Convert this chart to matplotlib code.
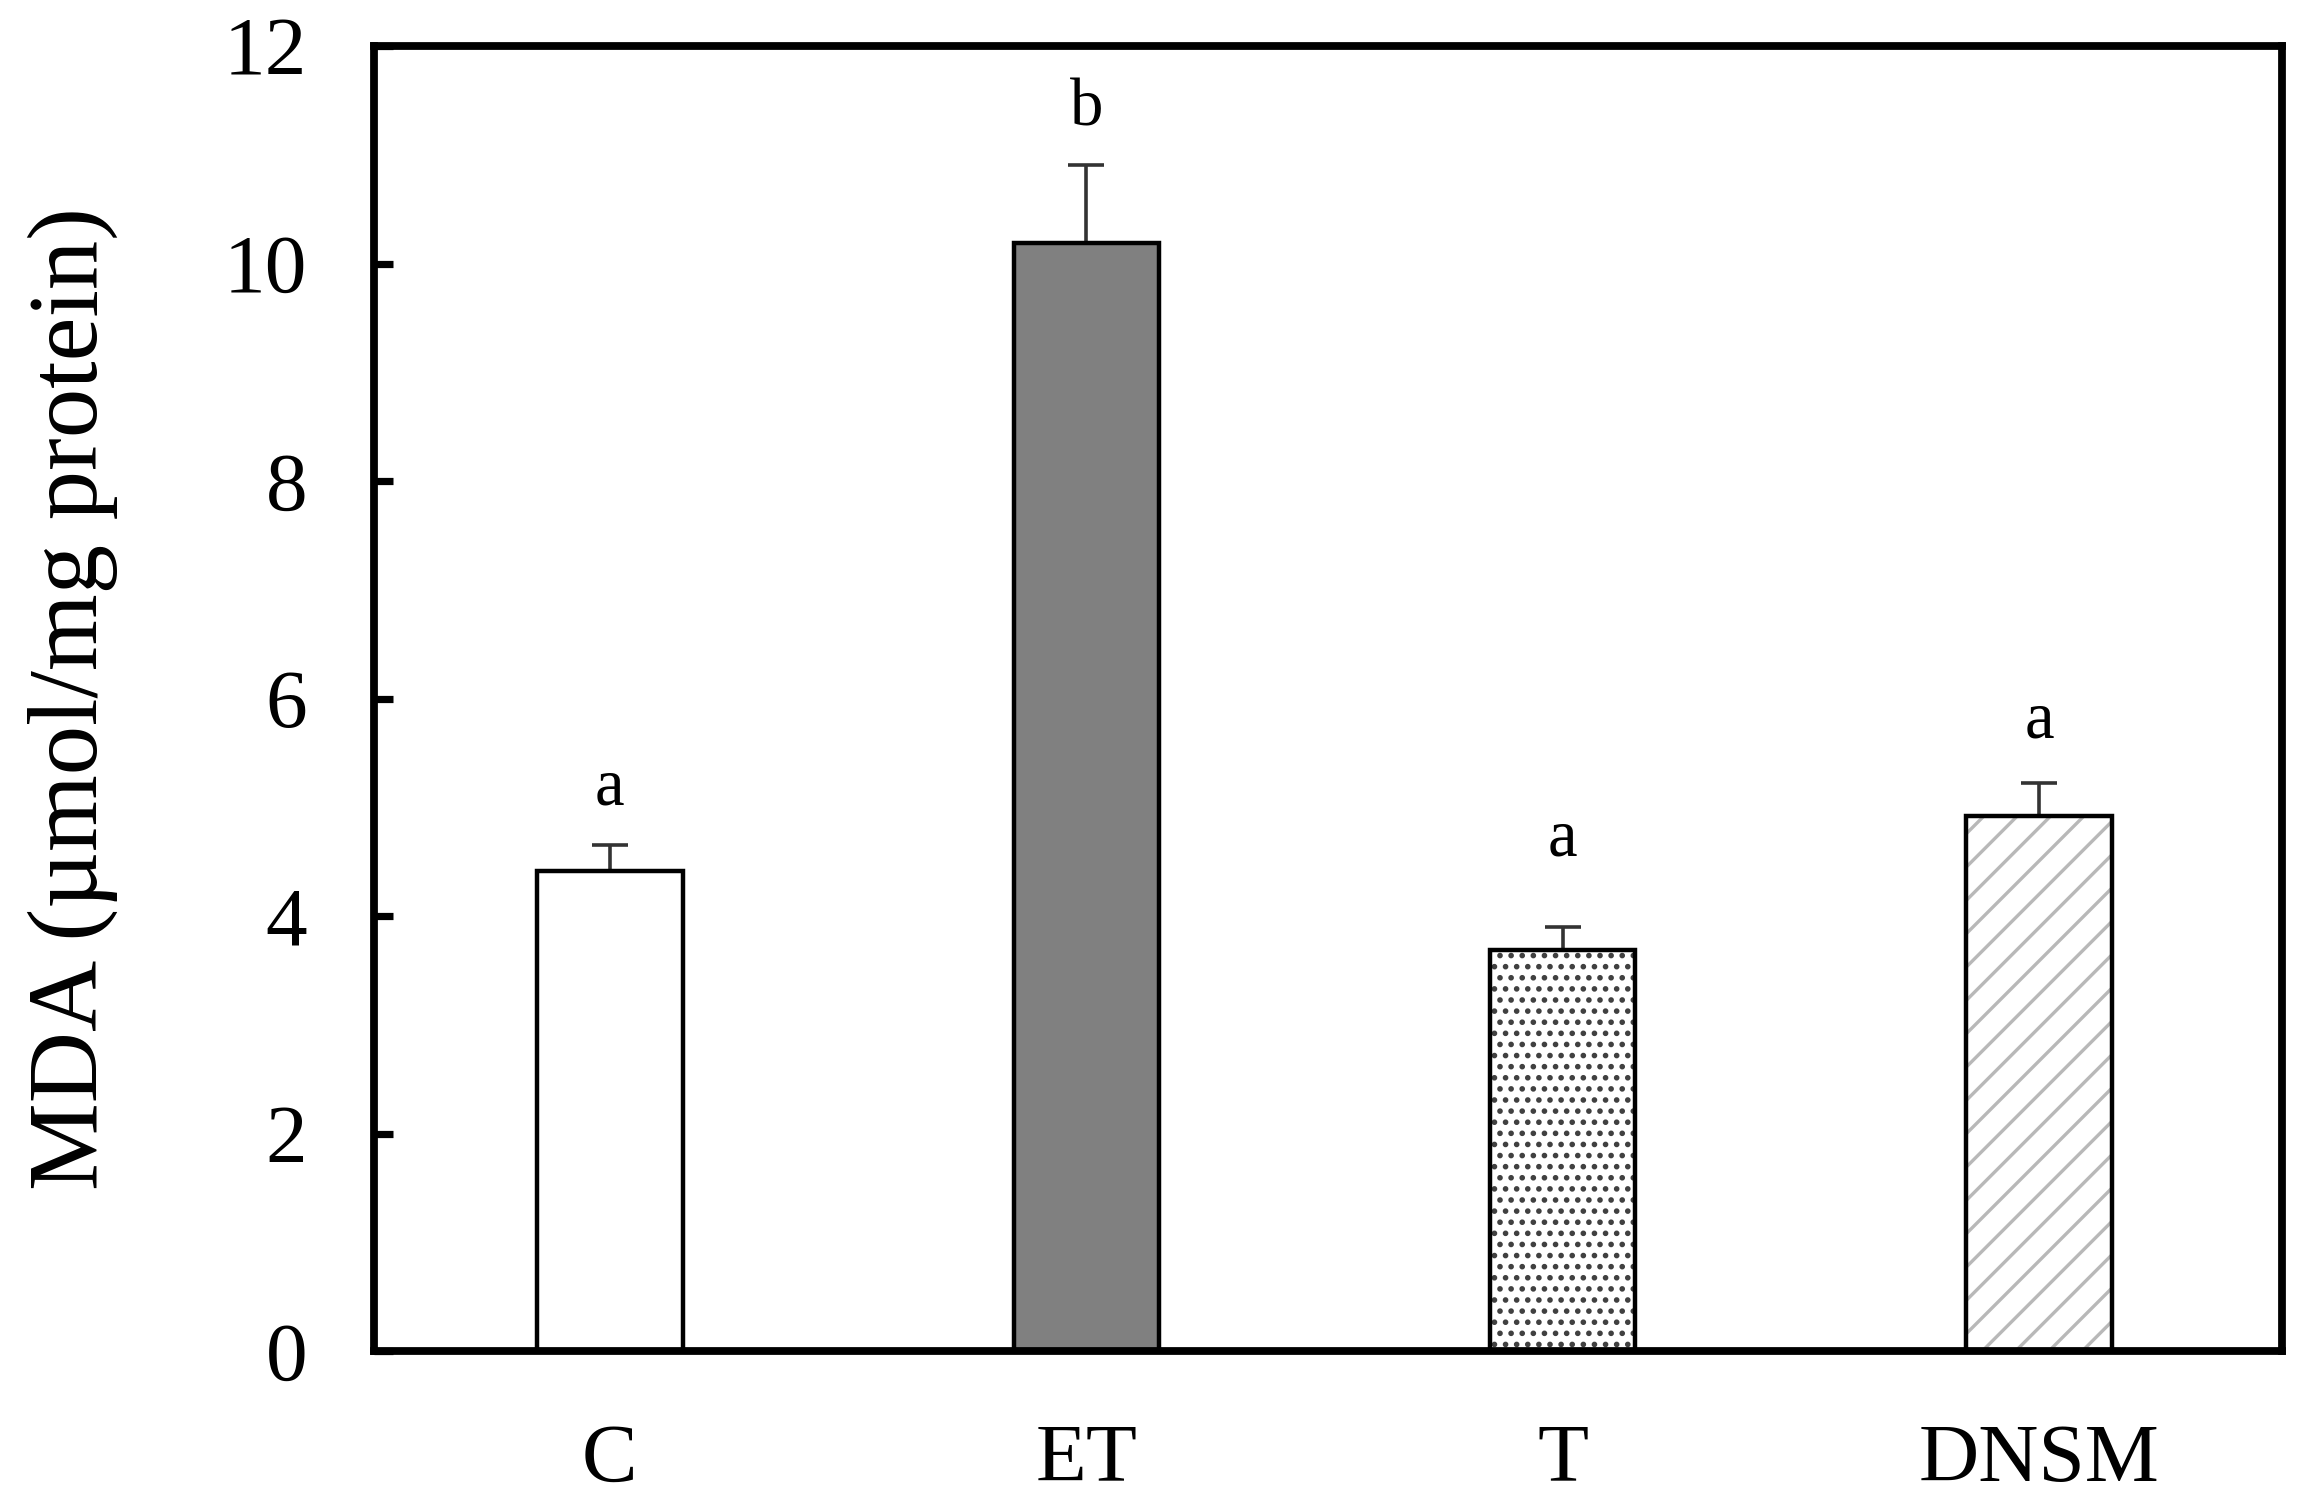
import numpy as np
import matplotlib
matplotlib.use("Agg")
import matplotlib.pyplot as plt

# data
groups = ["C", "ET", "T", "DNSM"]
mda = [4.41, 10.19, 3.69, 4.92]
sem = [0.24, 0.72, 0.21, 0.30]
letters = ["a", "b", "a", "a"]
letter_gap = [0.38, 0.36, 0.66, 0.42]

plt.rcParams['font.family'] = ['Liberation Serif', 'DejaVu Serif']
plt.rcParams['hatch.linewidth'] = 1.2

fig = plt.figure(figsize=(11.51, 7.55), dpi=200)
ax = fig.add_axes([0.1625, 0.1053, 0.8288, 0.8642])

x = np.arange(len(groups))
w = 0.305

# fills / hatches first, black outlines on top
ax.bar(x[0], mda[0], w, color='white', edgecolor='none')
ax.bar(x[1], mda[1], w, color='#808080', edgecolor='none')
ax.bar(x[2], mda[2], w, color='white', edgecolor='#404040', hatch='...', linewidth=0)
ax.bar(x[3], mda[3], w, color='white', edgecolor='#b8b8b8', hatch='//', linewidth=0)
ax.bar(x, mda, w, color='none', edgecolor='black', linewidth=1.6, zorder=3)

ax.errorbar(x, mda, yerr=[np.zeros(len(sem)), sem], fmt='none',
            ecolor='#333333', elinewidth=1.3, capsize=6.5, capthick=1.3, zorder=2)

for i in range(len(groups)):
    ax.text(x[i], mda[i] + sem[i] + letter_gap[i], letters[i],
            ha='center', va='baseline', fontsize=24)

ax.set_xlim(-0.495, 3.51)
ax.set_ylim(0, 12)
ax.set_yticks([0, 2, 4, 6, 8, 10, 12])
ax.set_xticks(x)
ax.set_xticklabels(groups)
ax.tick_params(axis='y', direction='in', length=7, width=2.6, labelsize=30, pad=24, right=False)
ax.tick_params(axis='x', length=0, labelsize=30, pad=26)
for s in ax.spines.values():
    s.set_linewidth(2.8)
ax.set_ylabel("MDA (\u00b5mol/mg protein)", fontsize=35.5, labelpad=38)

fig.savefig("out.png", dpi=200)
